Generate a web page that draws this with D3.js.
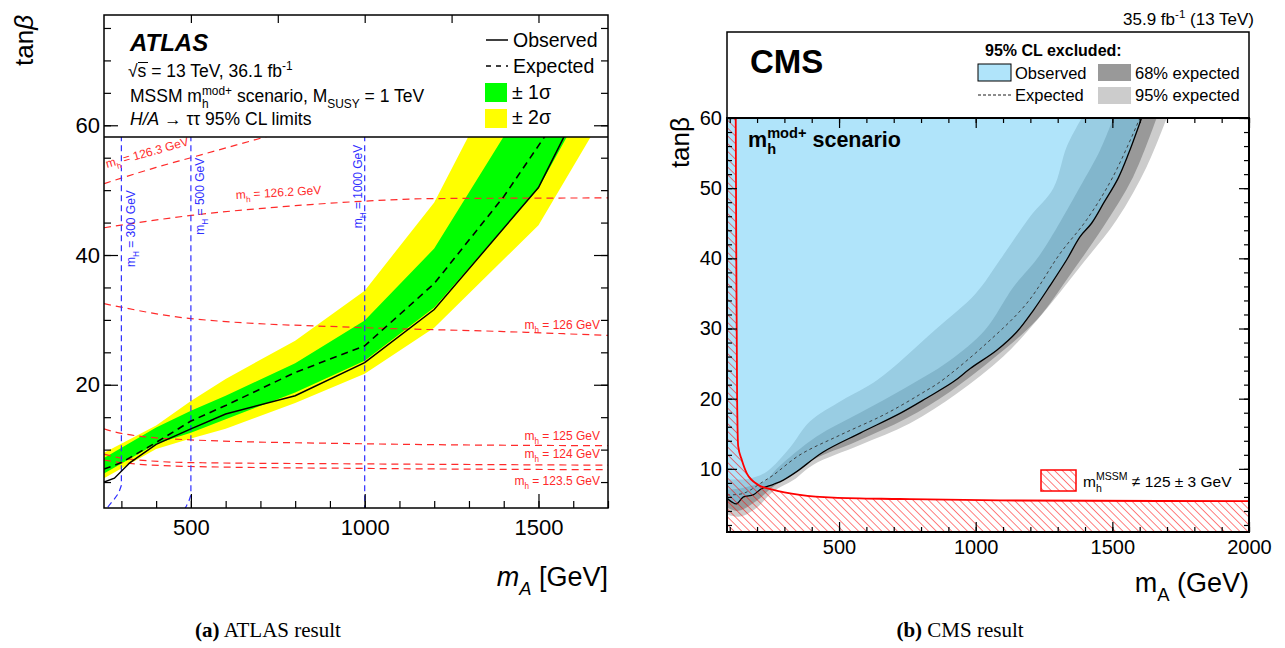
<!DOCTYPE html>
<html>
<head>
<meta charset="utf-8">
<script src="https://cdn.jsdelivr.net/npm/d3@7"></script>
<style>
body { margin: 0; background: #fff; }
text { font-family: "Liberation Sans", Arial, sans-serif; }
.cap { font-family: "Liberation Serif", "DejaVu Serif", serif; }
</style>
</head>
<body>
<svg id="fig" width="1285" height="648"></svg>
<script>
// ---------- ATLAS (a): tan(beta) limit vs m_A ----------
var atlasObs = [[250,5.0],[280,5.6],[325,8.0],[400,10.8],[500,13.2],[600,15.5],[800,18.3],[1000,23.4],[1200,31.6],[1500,50.4],[1590,60]];
var atlasExp = [[250,7.0],[300,8.0],[400,11.1],[500,14.4],[600,16.8],[800,21.9],[1000,26.0],[1200,35.6],[1400,49.0],[1540,60]];
var green_lo = [[250,6.3],[400,10.9],[500,12.6],[600,14.7],[800,18.8],[1000,23.7],[1200,31.9],[1500,50.3],[1600,60]];
var green_hi = [[250,8.7],[400,13.4],[500,16.0],[600,18.3],[800,23.3],[1000,29.9],[1200,41.0],[1420,60]];
var yellow_lo = [[250,5.6],[400,10.1],[500,11.7],[600,13.2],[800,17.2],[1000,21.7],[1200,28.8],[1500,44.6],[1670,60]];
var yellow_hi = [[250,9.5],[400,13.7],[500,17.5],[600,20.9],[800,26.8],[1000,34.5],[1200,48.1],[1315,60]];

// iso m_h contours (red) and iso m_H lines (blue)
var mh_lines = [
  {lab: "126.3", pts: [[250,51.0],[400,53.5],[500,55.0],[720,58.3],[800,59.5]]},
  {lab: "126.2", pts: [[250,44.2],[500,46.1],[800,47.6],[1000,48.3],[1200,48.7],[1700,48.8]]},
  {lab: "126",   pts: [[250,32.5],[500,30.2],[1000,28.8],[1400,28.2],[1700,27.6]]},
  {lab: "125",   pts: [[250,13.2],[300,12.5],[500,11.5],[1000,10.9],[1700,10.6]]},
  {lab: "124",   pts: [[250,9.3],[300,8.7],[500,8.0],[1000,7.8],[1700,7.6]]},
  {lab: "123.5", pts: [[250,8.4],[300,8.0],[500,7.4],[1000,7.1],[1700,6.9]]}
];
var mH_lines = [
  {lab: "300",  pts: [[300,60],[300,4.5],[292,3.3],[280,2.4],[266,1.5],[258,0.9]]},
  {lab: "500",  pts: [[500,60],[500,3.0],[495,2.2],[487,1.3],[483,0.9]]},
  {lab: "1000", pts: [[1000,60],[1000,0.9]]}
];

// ---------- CMS (b): excluded regions ----------
var cmsObs = [[90,5.8],[107,5.3],[125,5.0],[150,6.0],[186,6.3],[217,7.2],[260,7.8],[296,8.4],[345,9.6],[442,12.4],[577,15.1],[723,17.9],[821,20.1],[918,22.4],[980,24.3],[1077,26.9],[1150,29.5],[1211,32.6],[1270,36.0],[1333,39.8],[1382,43.1],[1424,45.0],[1470,48.0],[1521,51.4],[1560,55.0],[1607,60]];
var cmsExp = [[90,6.3],[150,6.5],[223,8.2],[259,9.1],[357,12.0],[503,14.8],[674,17.9],[821,21.2],[870,22.4],[1040,27.9],[1187,33.6],[1309,40.7],[1406,45.5],[1502,51.6],[1601,60]];
var cms68_in = [[90,7.0],[150,7.3],[235,8.4],[272,10.0],[418,14.6],[577,18.0],[740,21.5],[900,25.3],[1034,29.8],[1138,35.9],[1235,40.5],[1382,50.2],[1455,55.4],[1504,60]];
var cms68_out = [[90,4.5],[130,4.0],[200,5.5],[260,7.5],[320,8.9],[406,11.3],[564,13.9],[747,17.2],[906,21.0],[1089,26.5],[1223,31.2],[1357,38.3],[1467,44.5],[1576,51.6],[1662,60]];
var cms95_in = [[90,8.5],[170,8.6],[235,9.6],[320,13.0],[392,16.7],[513,19.8],[641,22.7],[851,29.8],[1000,35.0],[1089,39.8],[1200,46.0],[1284,50.0],[1333,55.9],[1388,60]];
var cms95_out = [[90,3.5],[140,3.2],[200,4.5],[260,6.8],[333,8.4],[406,10.6],[577,13.4],[760,16.5],[930,20.7],[1101,26.0],[1236,31.7],[1382,38.8],[1516,45.5],[1626,53.1],[1699,60]];
var mhHatchEdge = [[122,60],[124,40],[127,20],[131,13.2],[144,11.3],[162,9.4],[205,7.7],[260,7.0],[357,6.3],[479,5.9],[723,5.7],[1089,5.5],[2000,5.4]];

// ticks
var atlasXMajor = [500,1000,1500];
var atlasYMajor = [20,40,60];
var cmsXMajor = [500,1000,1500,2000];
var cmsYMajor = [10,20,30,40,50,60];

var svg = d3.select("#fig");

// rich text helper: parts = [{t, sub, sup, it, b, over}]
function rich(g, x, y, size, parts, anchor) {
    var t = g.append("text").attr("x", x).attr("y", y).attr("font-size", size);
    if (anchor) t.attr("text-anchor", anchor);
    var shift = 0, prevLen = 0;
    parts.forEach(p => {
        var s = t.append("tspan");
        var target = 0, fs = size;
        if (p.sub) { target = size * 0.32; fs = size * 0.68; }
        if (p.sup) { target = -size * 0.42; fs = size * 0.68; }
        s.attr("dy", target - shift).attr("font-size", fs).text(p.t);
        if (p.over) s.attr("dx", -prevLen);
        if (p.it) s.attr("font-style", "italic");
        if (p.b) s.attr("font-weight", "bold");
        shift = target;
        prevLen = s.node().getComputedTextLength();
    });
    return t;
}

// ================= ATLAS =================
var ax = d3.scaleLinear().domain([250, 1700]).range([104, 608]);
var ay = d3.scaleLinear().domain([1, 77]).range([508, 15]);
var legY = 137;

var ga = svg.append("g");
svg.append("clipPath").attr("id", "clipA").append("rect")
    .attr("x", 104).attr("y", legY).attr("width", 504).attr("height", 508 - legY);
var pa = ga.append("g").attr("clip-path", "url(#clipA)");

var aline = d3.line().x(d => ax(d[0])).y(d => ay(d[1]));
function band(lo, hi) { return aline(hi.concat(lo.slice().reverse())) + "Z"; }

pa.append("path").attr("d", band(yellow_lo, yellow_hi)).attr("fill", "#ffff00");
pa.append("path").attr("d", band(green_lo, green_hi)).attr("fill", "#00ff00");

var smooth = d3.line().x(d => ax(d[0])).y(d => ay(d[1])).curve(d3.curveMonotoneX);
mh_lines.forEach(m => {
    pa.append("path").attr("d", smooth(m.pts)).attr("fill", "none")
        .attr("stroke", "#ff2a2a").attr("stroke-width", 1.2).attr("stroke-dasharray", "7,5");
});
mH_lines.forEach(m => {
    pa.append("path").attr("d", aline(m.pts)).attr("fill", "none")
        .attr("stroke", "#2f2fff").attr("stroke-width", 1.2).attr("stroke-dasharray", "6,4");
});
pa.append("path").attr("d", aline(atlasExp)).attr("fill", "none")
    .attr("stroke", "#000").attr("stroke-width", 1.6).attr("stroke-dasharray", "7,5");
pa.append("path").attr("d", aline(atlasObs)).attr("fill", "none")
    .attr("stroke", "#000").attr("stroke-width", 1.5);

// red labels
var redLab = [
    {i: 0, x: 107, y: 168, rot: -15.5, anchor: "start"},
    {i: 1, x: 236, y: 199, rot: -3.3, anchor: "start"},
    {i: 2, x: 600, y: 329, rot: 0, anchor: "end"},
    {i: 3, x: 600, y: 440, rot: 0, anchor: "end"},
    {i: 4, x: 600, y: 458, rot: 0, anchor: "end"},
    {i: 5, x: 600, y: 485, rot: 0, anchor: "end"}
];
redLab.forEach(r => {
    var g = pa.append("g").attr("transform", "translate(" + r.x + "," + r.y + ") rotate(" + r.rot + ")");
    rich(g, 0, 0, 12, [{t: "m"}, {t: "h", sub: true}, {t: " = " + mh_lines[r.i].lab + " GeV"}], r.anchor)
        .attr("fill", "#ff2a2a");
});
// blue labels
var blueLab = [{i: 0, dx: 14, top: 50}, {i: 1, dx: 13, top: 55}, {i: 2, dx: -3, top: 57}];
blueLab.forEach(b => {
    var x0 = ax(+mH_lines[b.i].lab) + b.dx, y0 = ay(b.top);
    var g = pa.append("g").attr("transform", "translate(" + x0 + "," + y0 + ") rotate(-90)");
    rich(g, 0, 0, 12, [{t: "m"}, {t: "H", sub: true}, {t: " = " + mH_lines[b.i].lab + " GeV"}], "end")
        .attr("fill", "#2f2fff");
});

// ATLAS axes
function noDomain(sel) { sel.select(".domain").remove(); }
var minX = d3.range(300, 1701, 100), minY = d3.range(5, 77, 5);
ga.append("g").attr("transform", "translate(0,508)")
    .call(d3.axisBottom(ax).tickValues(minX).tickSize(-7).tickFormat("")).call(noDomain);
ga.append("g").attr("transform", "translate(0,508)")
    .call(d3.axisBottom(ax).tickValues(atlasXMajor).tickSize(-14).tickPadding(11).tickFormat(d3.format("d")))
    .call(noDomain).selectAll("text").attr("font-size", 22).attr("fill", "#000")
    .attr("font-family", "'Liberation Sans', Arial, sans-serif");
ga.append("g").attr("transform", "translate(0,15)")
    .call(d3.axisTop(ax).tickValues([500,750,1000,1250,1500]).tickSize(-8).tickFormat("")).call(noDomain);
ga.append("g").attr("transform", "translate(104,0)")
    .call(d3.axisLeft(ay).tickValues(minY).tickSize(-7).tickFormat("")).call(noDomain);
ga.append("g").attr("transform", "translate(104,0)")
    .call(d3.axisLeft(ay).tickValues(atlasYMajor).tickSize(-14).tickPadding(4))
    .call(noDomain).selectAll("text").attr("font-size", 22).attr("fill", "#000")
    .attr("font-family", "'Liberation Sans', Arial, sans-serif");
ga.append("g").attr("transform", "translate(608,0)")
    .call(d3.axisRight(ay).tickValues(minY).tickSize(-7).tickFormat("")).call(noDomain);
ga.append("g").attr("transform", "translate(608,0)")
    .call(d3.axisRight(ay).tickValues(atlasYMajor).tickSize(-14).tickFormat("")).call(noDomain);
ga.selectAll(".tick line").attr("stroke", "#000").attr("stroke-width", 1.2);

ga.append("line").attr("x1", 104).attr("x2", 608).attr("y1", legY).attr("y2", legY)
    .attr("stroke", "#000").attr("stroke-width", 1.3);
ga.append("rect").attr("x", 104).attr("y", 15).attr("width", 504).attr("height", 493)
    .attr("fill", "none").attr("stroke", "#000").attr("stroke-width", 1.5);

// ATLAS legend
rich(ga, 130, 51, 24, [{t: "ATLAS", b: true, it: true}]);
rich(ga, 128, 77, 17.5, [{t: "√"}, {t: "s"}, {t: " = 13 TeV, 36.1 fb"}, {t: "-1", sup: true}]);
ga.append("line").attr("x1", 138).attr("x2", 148).attr("y1", 62.5).attr("y2", 62.5)
    .attr("stroke", "#000").attr("stroke-width", 1);
rich(ga, 130, 102, 17.5, [{t: "MSSM m"}, {t: "h", sub: true}, {t: "mod+", sup: true, over: true},
    {t: " scenario, M"}, {t: "SUSY", sub: true}, {t: " = 1 TeV"}]);
rich(ga, 130, 125, 17.5, [{t: "H/A", it: true}, {t: " → ττ 95% CL limits"}]);

ga.append("line").attr("x1", 486).attr("x2", 508).attr("y1", 40).attr("y2", 40)
    .attr("stroke", "#000").attr("stroke-width", 1.5);
rich(ga, 513, 47, 19.5, [{t: "Observed"}]);
ga.append("line").attr("x1", 486).attr("x2", 508).attr("y1", 66).attr("y2", 66)
    .attr("stroke", "#000").attr("stroke-width", 1.5).attr("stroke-dasharray", "5,5");
rich(ga, 513, 73, 19.5, [{t: "Expected"}]);
ga.append("rect").attr("x", 485).attr("y", 83).attr("width", 22).attr("height", 19).attr("fill", "#00ff00");
rich(ga, 512, 99, 19.5, [{t: "± 1σ"}]);
ga.append("rect").attr("x", 485).attr("y", 109).attr("width", 22).attr("height", 19).attr("fill", "#ffff00");
rich(ga, 512, 124, 19.5, [{t: "± 2σ"}]);

// ATLAS axis titles
var gt = ga.append("g").attr("transform", "translate(33,15) rotate(-90)");
rich(gt, 0, 0, 26, [{t: "tan"}, {t: "β", it: true}], "end");
rich(ga, 608, 586, 27, [{t: "m", it: true}, {t: "A", sub: true, it: true}, {t: " [GeV]"}], "end");
rich(ga, 268, 637, 21, [{t: "(a)", b: true}, {t: " ATLAS result"}], "middle").attr("class", "cap");

// ================= CMS =================
var cx = d3.scaleLinear().domain([90, 2000]).range([727, 1249]);
var cy = d3.scaleLinear().domain([1, 60]).range([532, 118]);
var gc = svg.append("g");
svg.append("clipPath").attr("id", "clipC").append("rect")
    .attr("x", 727).attr("y", 118).attr("width", 522).attr("height", 414);
var defs = svg.append("defs");
var pat = defs.append("pattern").attr("id", "hatch").attr("patternUnits", "userSpaceOnUse")
    .attr("width", 5.5).attr("height", 5.5).attr("patternTransform", "rotate(-45)");
pat.append("line").attr("x1", 0).attr("y1", 0).attr("x2", 0).attr("y2", 5.5)
    .attr("stroke", "#ff0000").attr("stroke-width", 1.0);

var pc = gc.append("g").attr("clip-path", "url(#clipC)");
var cline = d3.line().x(d => cx(d[0])).y(d => cy(d[1])).curve(d3.curveCatmullRom);
function cband(a, b) { return cline(a) + "L" + cline(b.slice().reverse()).slice(1) + "Z"; }

pc.append("path").attr("d", cband(cms95_in, cms95_out)).attr("fill", "#cccccc");
pc.append("path").attr("d", cband(cms68_in, cms68_out)).attr("fill", "#999999");
pc.append("path").attr("d", cline(cmsObs) + "L" + cx(90) + "," + cy(60) + "Z")
    .attr("fill", "rgb(111,206,246)").attr("fill-opacity", 0.55);
pc.append("path").attr("d", cline(cmsExp)).attr("fill", "none")
    .attr("stroke", "#333").attr("stroke-width", 0.9).attr("stroke-dasharray", "3,3");
pc.append("path").attr("d", cline(cmsObs)).attr("fill", "none")
    .attr("stroke", "#000").attr("stroke-width", 1.3);

var hatchPoly = [[90,60]].concat(mhHatchEdge, [[2000,1],[90,1]]);
var hl = d3.line().x(d => cx(d[0])).y(d => cy(d[1]));
pc.append("path").attr("d", hl(hatchPoly) + "Z").attr("fill", "url(#hatch)");
pc.append("path").attr("d", d3.line().x(d => cx(d[0])).y(d => cy(d[1])).curve(d3.curveMonotoneX)(mhHatchEdge))
    .attr("fill", "none").attr("stroke", "#ff0000").attr("stroke-width", 1.8);

// CMS axes
var cMinX = d3.range(100, 2001, 100), cMinY = d3.range(2, 61, 2);
gc.append("g").attr("transform", "translate(0,532)")
    .call(d3.axisBottom(cx).tickValues(cMinX).tickSize(-5).tickFormat("")).call(noDomain);
gc.append("g").attr("transform", "translate(0,532)")
    .call(d3.axisBottom(cx).tickValues(cmsXMajor).tickSize(-10).tickPadding(8).tickFormat(d3.format("d")))
    .call(noDomain).selectAll("text").attr("font-size", 20).attr("fill", "#000")
    .attr("font-family", "'Liberation Sans', Arial, sans-serif");
gc.append("g").attr("transform", "translate(0,118)")
    .call(d3.axisTop(cx).tickValues(cMinX).tickSize(-5).tickFormat("")).call(noDomain);
gc.append("g").attr("transform", "translate(0,118)")
    .call(d3.axisTop(cx).tickValues(cmsXMajor).tickSize(-10).tickFormat("")).call(noDomain);
gc.append("g").attr("transform", "translate(727,0)")
    .call(d3.axisLeft(cy).tickValues(cMinY).tickSize(-5).tickFormat("")).call(noDomain);
gc.append("g").attr("transform", "translate(727,0)")
    .call(d3.axisLeft(cy).tickValues(cmsYMajor).tickSize(-10).tickPadding(5))
    .call(noDomain).selectAll("text").attr("font-size", 20).attr("fill", "#000")
    .attr("font-family", "'Liberation Sans', Arial, sans-serif");
gc.append("g").attr("transform", "translate(1249,0)")
    .call(d3.axisRight(cy).tickValues(cMinY).tickSize(-5).tickFormat("")).call(noDomain);
gc.append("g").attr("transform", "translate(1249,0)")
    .call(d3.axisRight(cy).tickValues(cmsYMajor).tickSize(-10).tickFormat("")).call(noDomain);
gc.selectAll(".tick line").attr("stroke", "#000").attr("stroke-width", 1.2);

gc.append("rect").attr("x", 727).attr("y", 32).attr("width", 522).attr("height", 86)
    .attr("fill", "none").attr("stroke", "#000").attr("stroke-width", 1.5);
gc.append("rect").attr("x", 727).attr("y", 118).attr("width", 522).attr("height", 414)
    .attr("fill", "none").attr("stroke", "#000").attr("stroke-width", 2);

// CMS header & legend
rich(gc, 1254, 25, 17, [{t: "35.9 fb"}, {t: "-1", sup: true}, {t: " (13 TeV)"}], "end");
rich(gc, 750, 73, 33, [{t: "CMS", b: true}]);
rich(gc, 748, 147, 21.5, [{t: "m", b: true}, {t: "h", sub: true, b: true}, {t: "mod+", sup: true, over: true, b: true},
    {t: " scenario", b: true}]);
rich(gc, 985, 56, 16, [{t: "95% CL excluded:", b: true}]);
gc.append("rect").attr("x", 978).attr("y", 64).attr("width", 33).attr("height", 17)
    .attr("fill", "#b0e4fa").attr("stroke", "#000").attr("stroke-width", 1);
rich(gc, 1015, 79, 16.5, [{t: "Observed"}]);
gc.append("line").attr("x1", 978).attr("x2", 1011).attr("y1", 95).attr("y2", 95)
    .attr("stroke", "#000").attr("stroke-width", 0.9).attr("stroke-dasharray", "3,2");
rich(gc, 1015, 101, 16.5, [{t: "Expected"}]);
gc.append("rect").attr("x", 1098).attr("y", 64).attr("width", 33).attr("height", 17).attr("fill", "#999999");
rich(gc, 1135, 79, 16.5, [{t: "68% expected"}]);
gc.append("rect").attr("x", 1098).attr("y", 87).attr("width", 33).attr("height", 17).attr("fill", "#cccccc");
rich(gc, 1135, 101, 16.5, [{t: "95% expected"}]);

gc.append("rect").attr("x", 1041).attr("y", 470).attr("width", 35).attr("height", 21)
    .attr("fill", "url(#hatch)").attr("stroke", "#ff0000").attr("stroke-width", 1.5);
rich(gc, 1083, 487, 15.5, [{t: "m"}, {t: "h", sub: true}, {t: "MSSM", sup: true, over: true}, {t: " ≠ 125 ± 3 GeV"}]);

var gt2 = gc.append("g").attr("transform", "translate(689,117) rotate(-90)");
rich(gt2, 0, 0, 26, [{t: "tanβ"}], "end");
rich(gc, 1249, 592, 27, [{t: "m"}, {t: "A", sub: true}, {t: " (GeV)"}], "end");
rich(gc, 960, 637, 21, [{t: "(b)", b: true}, {t: " CMS result"}], "middle").attr("class", "cap");
</script>
</body>
</html>
